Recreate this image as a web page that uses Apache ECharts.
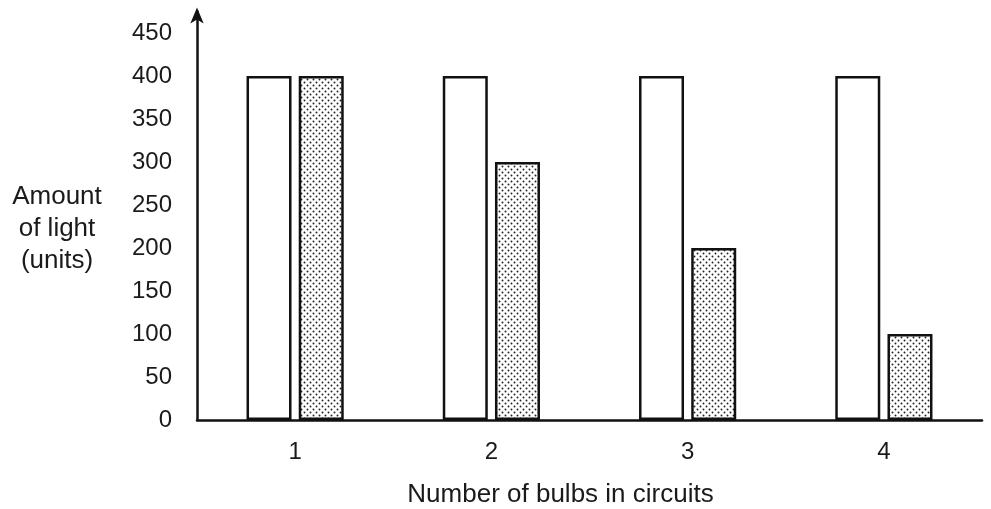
<!DOCTYPE html>
<html>
<head>
<meta charset="utf-8">
<script src="https://cdn.jsdelivr.net/npm/echarts@6/dist/echarts.min.js"></script>
<style>
  html, body { margin: 0; padding: 0; background: #fff; }
  #chart { width: 991px; height: 509px; }
</style>
</head>
<body>
<div id="chart"></div>
<script>
// Bulbs in a circuit vs. amount of light
const categories = ['1', '2', '3', '4'];
const lightPerBulb = [400, 400, 400, 400];     // open bars
const lightSeries = [400, 300, 200, 100];      // stippled bars
const yTicks = [0, 50, 100, 150, 200, 250, 300, 350, 400, 450];

// Small stipple tile used to fill the second series
function stipple() {
  const c = document.createElement('canvas');
  c.width = 6; c.height = 6;
  const g = c.getContext('2d');
  g.fillStyle = '#ffffff';
  g.fillRect(0, 0, 6, 6);
  g.fillStyle = '#222222';
  [[1.5, 1.5], [4.5, 4.5]].forEach(([x, y]) => {
    g.beginPath();
    g.arc(x, y, 0.95, 0, Math.PI * 2);
    g.fill();
  });
  return c;
}

const font = '"Liberation Sans", Arial, sans-serif';
const ink = '#1a1a1a';

const chart = echarts.init(document.getElementById('chart'), null, { renderer: 'canvas' });
chart.setOption({
  backgroundColor: '#ffffff',
  animation: false,
  grid: { left: 197, right: 9, top: 11.5, bottom: 89, outerBoundsMode: 'none', containLabel: false },
  // y-axis title, set horizontally to the left of the tick labels
  graphic: [{
    type: 'text',
    x: 57,
    y: 181,
    style: {
      text: 'Amount\nof light\n(units)',
      fontFamily: font,
      fontSize: 26,
      lineHeight: 32,
      fill: ink,
      align: 'center',
      verticalAlign: 'top'
    }
  }],
  xAxis: {
    type: 'category',
    data: categories,
    name: 'Number of bulbs in circuits',
    nameLocation: 'middle',
    nameGap: 62,
    nameTextStyle: { fontFamily: font, fontSize: 26, color: ink, padding: [0, 58, 0, 0] },
    axisLine: { lineStyle: { color: '#111', width: 2.5 } },
    axisTick: { show: false },
    axisLabel: { fontFamily: font, fontSize: 24, color: ink, margin: 20 }
  },
  yAxis: {
    type: 'value',
    min: 0,
    max: 475,
    interval: 50,
    splitLine: { show: false },
    axisTick: { show: false },
    axisLine: {
      show: true,
      symbol: ['none', 'arrow'],
      symbolSize: [10, 16],
      symbolOffset: [0, 4],
      lineStyle: { color: '#111', width: 2.5 }
    },
    axisLabel: {
      fontFamily: font, fontSize: 24, color: ink, margin: 25,
      formatter: v => (yTicks.indexOf(v) >= 0 ? String(v) : '')
    }
  },
  series: [
    {
      type: 'bar',
      data: lightPerBulb,
      barWidth: 45,
      barGap: '16%',
      itemStyle: { color: '#ffffff', borderColor: '#111', borderWidth: 2.5 }
    },
    {
      type: 'bar',
      data: lightSeries,
      barWidth: 45,
      itemStyle: {
        color: { image: stipple(), repeat: 'repeat' },
        borderColor: '#111',
        borderWidth: 2.5
      }
    }
  ]
});
</script>
</body>
</html>
